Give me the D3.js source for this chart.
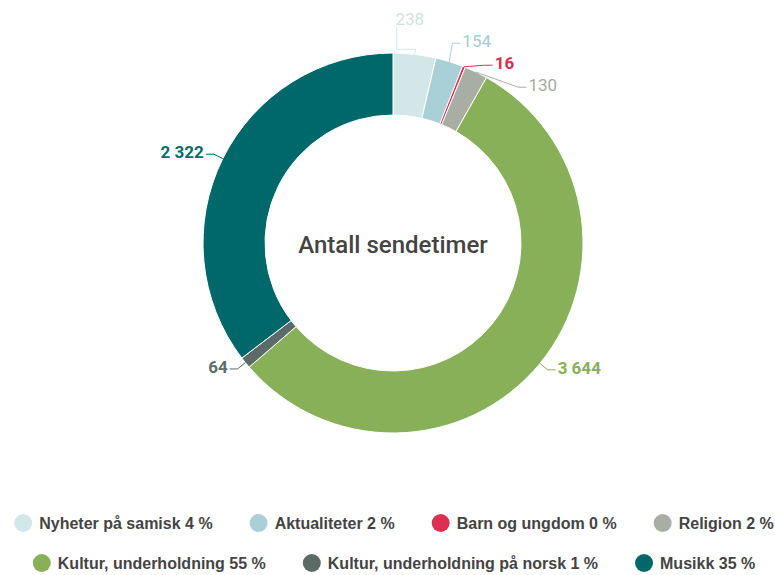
<!DOCTYPE html>
<html>
<head>
<meta charset="utf-8">
<script src="https://cdn.jsdelivr.net/npm/d3@7"></script>
<style>
    body { margin: 0; background: #fff; }
    svg { font-family: Roboto, "Noto Sans", sans-serif; }
</style>
</head>
<body>
<svg id="chart" width="775" height="575"></svg>
<script>
// --- Data ---
const categories = ["Nyheter på samisk", "Aktualiteter", "Barn og ungdom", "Religion",
    "Kultur, underholdning", "Kultur, underholdning på norsk", "Musikk"];
const values = [238, 154, 16, 130, 3644, 64, 2322];
const percentLabels = ["4 %", "2 %", "0 %", "2 %", "55 %", "1 %", "35 %"];
const colors = ["#d3e7e9", "#a8d0d6", "#dc2f52", "#a9aea4", "#88b058", "#5c6b68", "#00676b"];
const labelColors = ["#cfe3e5", "#a3ccd3", "#dc2f52", "#a6aba1", "#88b058", "#5f6d6a", "#0b6b6e"];
const boldLabel = [false, false, true, false, true, true, true];
const legendRows = [[0, 1, 2, 3], [4, 5, 6]];
const centerTitle = "Antall sendetimer";

// --- Layout ---
const width = 775, height = 575;
const cx = 393, cy = 243;
const outerR = 190, innerR = 128;
const labelR = 200, labelGap = 22, labelPad = 10;

const svg = d3.select("#chart");
const fmt = v => d3.format(",")(v).replace(/,/g, " ");

const pie = d3.pie().sort(null).value(d => d);
const arcs = pie(values);
const arc = d3.arc().innerRadius(innerR).outerRadius(outerR);

const g = svg.append("g").attr("transform", `translate(${cx},${cy})`);

g.selectAll("path.slice")
    .data(arcs)
    .enter()
    .append("path")
    .attr("class", "slice")
    .attr("d", arc)
    .attr("fill", (d, i) => colors[i])
    .attr("stroke", "#fff")
    .attr("stroke-width", 1);

g.append("text")
    .attr("text-anchor", "middle")
    .attr("y", 2)
    .attr("dy", "0.35em")
    .attr("font-size", 24)
    .attr("font-weight", 500)
    .attr("fill", "#444")
    .text(centerTitle);

// --- Data labels with simple overlap distribution ---
const labels = arcs.map((a, i) => {
    const mid = (a.startAngle + a.endAngle) / 2;
    return {
        i, mid,
        right: Math.sin(mid) >= 0,
        nx: labelR * Math.sin(mid),
        ny: -labelR * Math.cos(mid),
        ex: outerR * Math.sin(mid),
        ey: -outerR * Math.cos(mid)
    };
});

function distribute(items) {
    items.sort((a, b) => a.ny - b.ny);
    let blocks = items.map(d => ({ items: [d] }));
    const place = b => {
        const mean = d3.mean(b.items, d => d.ny);
        b.top = mean - (b.items.length - 1) * labelGap / 2;
        b.items.forEach((d, k) => d.y = b.top + k * labelGap);
        b.bottom = b.top + (b.items.length - 1) * labelGap;
    };
    blocks.forEach(place);
    let merged = true;
    while (merged) {
        merged = false;
        for (let k = 0; k < blocks.length - 1; k++) {
            if (blocks[k].bottom + labelGap > blocks[k + 1].top) {
                blocks[k].items = blocks[k].items.concat(blocks[k + 1].items);
                blocks.splice(k + 1, 1);
                place(blocks[k]);
                merged = true;
                break;
            }
        }
    }
}
distribute(labels.filter(d => d.right));
distribute(labels.filter(d => !d.right));

labels.forEach(d => {
    const s = d.right ? 1 : -1;
    if (Math.abs(d.y) > labelR) {
        d.x = d.nx;
        d.anchor = "middle";
        d.tx = d.nx - 6;
        d.pts = [[d.tx - 13, d.y + 6], [d.tx - 13, d.ny + 5], [d.nx, d.ny + 5], [d.ex, d.ey]];
    } else {
        const circX = s * Math.sqrt(labelR * labelR - d.y * d.y);
        d.x = d.right ? Math.max(circX, d.nx) : Math.min(circX, d.nx);
        d.anchor = d.right ? "start" : "end";
        d.tx = d.x + s * labelPad;
        d.pts = [[d.tx - s * 2, d.y], [d.x, d.y], [d.ex, d.ey]];
    }
});

g.selectAll("path.connector")
    .data(labels)
    .enter()
    .append("path")
    .attr("class", "connector")
    .attr("d", d => d3.line()(d.pts))
    .attr("fill", "none")
    .attr("stroke", d => colors[d.i])
    .attr("stroke-width", 1);

g.selectAll("text.dlabel")
    .data(labels)
    .enter()
    .append("text")
    .attr("class", "dlabel")
    .attr("x", d => d.tx)
    .attr("y", d => d.y - 2)
    .attr("dy", "0.35em")
    .attr("text-anchor", d => d.anchor)
    .attr("font-size", 17)
    .attr("font-weight", d => boldLabel[d.i] ? 700 : 400)
    .attr("fill", d => labelColors[d.i])
    .text(d => fmt(values[d.i]));

// --- Legend ---
const legendY = [523, 563];
const symR = 9, symGap = 7, itemDist = 37;

legendRows.forEach((row, r) => {
    const lg = svg.append("g");
    let x = 0;
    row.forEach(i => {
        const item = lg.append("g").attr("transform", `translate(${x},0)`);
        item.append("circle")
            .attr("cx", symR)
            .attr("cy", 0)
            .attr("r", symR)
            .attr("fill", colors[i]);
        const t = item.append("text")
            .attr("x", symR * 2 + symGap)
            .attr("dy", "0.35em")
            .attr("font-family", "'Liberation Sans', Arial, sans-serif")
            .attr("font-size", 16)
            .attr("font-weight", 700)
            .attr("fill", "#444")
            .text(`${categories[i]} ${percentLabels[i]}`);
        x += symR * 2 + symGap + t.node().getComputedTextLength() + itemDist;
    });
    const rowW = x - itemDist;
    lg.attr("transform", `translate(${cx + 1 - rowW / 2},${legendY[r]})`);
});
</script>
</body>
</html>
